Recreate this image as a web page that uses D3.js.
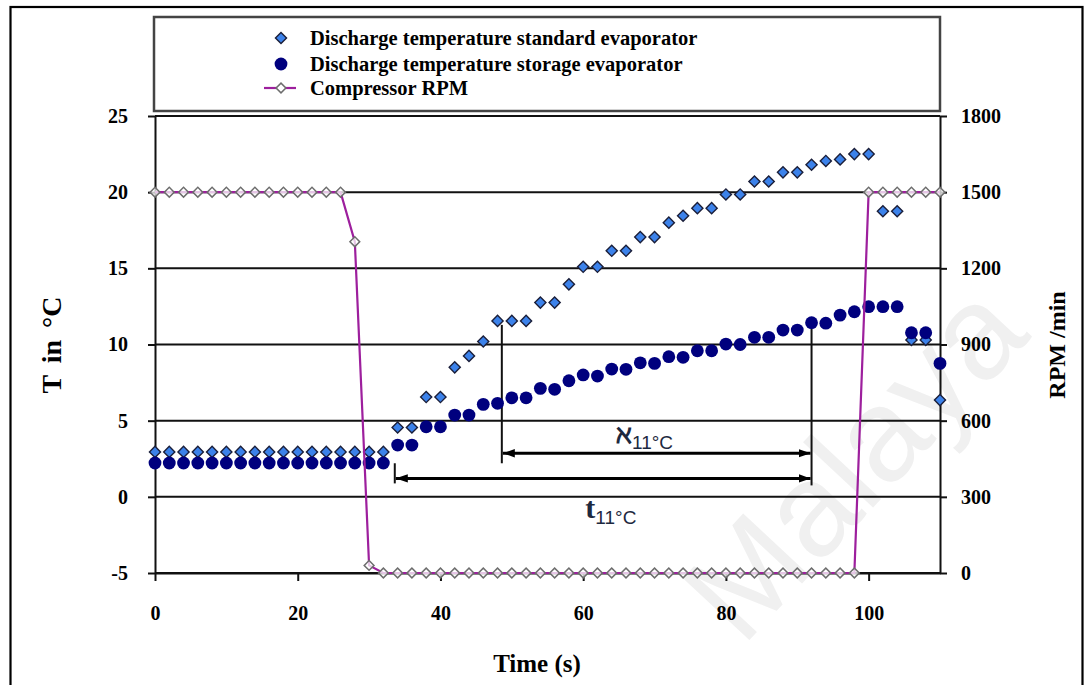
<!DOCTYPE html>
<html>
<head>
<meta charset="utf-8">
<script src="https://cdn.jsdelivr.net/npm/d3@7"></script>
<style>
  body { margin: 0; background: #fff; }
  svg { display: block; }
</style>
</head>
<body>
<svg id="chart" width="1084" height="685"></svg>
<script>
// Sample times (s)
const time = [0, 2, 4, 6, 8, 10, 12, 14, 16, 18, 20, 22, 24, 26, 28, 30, 32, 34, 36, 38,
  40, 42, 44, 46, 48, 50, 52, 54, 56, 58, 60, 62, 64, 66, 68, 70, 72, 74, 76, 78,
  80, 82, 84, 86, 88, 90, 92, 94, 96, 98, 100, 102, 104, 106, 108, 110];

// Discharge temperature, standard evaporator (°C)
const standardEvap = [2.95, 2.95, 2.95, 2.95, 2.95, 2.95, 2.95, 2.95, 2.95, 2.95, 2.95, 2.95, 2.95, 2.95, 2.95, 2.95, 2.95,
  4.55, 4.55, 6.55, 6.55, 8.5, 9.25, 10.2, 11.55, 11.55, 11.55,
  12.75, 12.75, 13.95, 15.1, 15.1, 16.15, 16.15, 17.05, 17.05, 18.0,
  18.45, 18.95, 18.95, 19.85, 19.85, 20.7, 20.7, 21.3, 21.3, 21.8,
  22.05, 22.15, 22.5, 22.5, 18.75, 18.75, 10.3, 10.3, 6.35];

// Discharge temperature, storage evaporator (°C)
const storageEvap = [2.22, 2.22, 2.22, 2.22, 2.22, 2.22, 2.22, 2.22, 2.22, 2.22, 2.22, 2.22, 2.22, 2.22, 2.22, 2.22, 2.22,
  3.4, 3.4, 4.6, 4.6, 5.37, 5.37, 6.07, 6.14, 6.5, 6.5,
  7.12, 7.06, 7.62, 8.0, 7.93, 8.39, 8.37, 8.8, 8.76, 9.2,
  9.16, 9.59, 9.59, 10.03, 10.0, 10.47, 10.47, 10.95, 10.95, 11.43,
  11.4, 11.93, 12.15, 12.48, 12.48, 12.48, 10.77, 10.77, 8.76];

// Compressor speed (RPM)
const compressorRpm = [1500, 1500, 1500, 1500, 1500, 1500, 1500, 1500, 1500, 1500, 1500, 1500, 1500, 1500,
  1305, 30,
  0, 0, 0, 0, 0, 0, 0, 0, 0, 0, 0, 0, 0, 0, 0, 0, 0, 0, 0, 0, 0, 0, 0, 0, 0, 0, 0, 0, 0, 0, 0, 0, 0, 0,
  1500, 1500, 1500, 1500, 1500, 1500];

// Axis ticks
const xTicks = [0, 20, 40, 60, 80, 100];
const tempTicks = [-5, 0, 5, 10, 15, 20, 25];
const rpmTicks = [0, 300, 600, 900, 1200, 1500, 1800];

// Legend entries
const legendLabels = ["Discharge temperature standard evaporator",
  "Discharge temperature storage evaporator",
  "Compressor RPM"];

// Time-span annotations (time in s, temperature in °C)
const spanStart = [48.6, 33.6];        // start of the two spans
const spanEnd = 92.0;                   // common end of both spans
const spanLevel = [2.86, 1.21];         // height of each double arrow
const spanNames = ["\u2135", "t"];      // main symbol of each label
const spanLabelAt = [[64.6, 3.55], [60.3, -1.4]];

const svg = d3.select("#chart");
const serif = "'Liberation Serif', 'Times New Roman', serif";
const sans = "'Liberation Sans', Arial, sans-serif";

const x = d3.scaleLinear().domain([0, 110]).range([155, 940]);
const y = d3.scaleLinear().domain([-5, 25]).range([573, 116]);
const yR = d3.scaleLinear().domain([0, 1800]).range([573, 116]);

// outer frame
svg.append("rect").attr("x", 10.5).attr("y", 7).attr("width", 1072).attr("height", 700)
  .attr("fill", "none").attr("stroke", "#000").attr("stroke-width", 2.2);

// faint watermark
svg.append("text")
  .attr("transform", "translate(742,648) rotate(-47)")
  .attr("font-family", sans).attr("font-size", 132)
  .attr("fill", "#f0f0f0")
  .text("Malaya");

// horizontal gridlines
svg.append("g").selectAll("line").data(tempTicks).join("line")
  .attr("x1", x(0)).attr("x2", x(110))
  .attr("y1", d => y(d)).attr("y2", d => y(d))
  .attr("stroke", "#111").attr("stroke-width", 2);

// axes
const plain = d => String(d);
const axisStyle = g => {
  g.selectAll("path, line").attr("stroke", "#111").attr("stroke-width", 2);
  g.selectAll("text").attr("font-family", serif).attr("font-weight", "bold")
    .attr("font-size", 20).attr("fill", "#000");
};
svg.append("g").attr("transform", `translate(${x(0)},0)`)
  .call(d3.axisLeft(y).tickValues(tempTicks).tickSize(7).tickSizeOuter(0).tickPadding(20).tickFormat(plain))
  .call(axisStyle);
svg.append("g").attr("transform", `translate(${x(110)},0)`)
  .call(d3.axisRight(yR).tickValues(rpmTicks).tickSize(7).tickSizeOuter(0).tickPadding(14).tickFormat(plain))
  .call(axisStyle);
svg.append("g").attr("transform", `translate(0,${y(-5)})`)
  .call(d3.axisBottom(x).tickValues(xTicks).tickSize(8).tickSizeOuter(0).tickPadding(25).tickFormat(plain))
  .call(axisStyle);

// axis titles
svg.append("text").attr("transform", "translate(61,345) rotate(-90)")
  .attr("text-anchor", "middle").attr("font-family", serif).attr("font-weight", "bold")
  .attr("font-size", 28).attr("word-spacing", 5).text("T in \u00B0C");
svg.append("text").attr("transform", "translate(1065,345) rotate(-90)")
  .attr("text-anchor", "middle").attr("font-family", serif).attr("font-weight", "bold")
  .attr("font-size", 24).text("RPM /min");
svg.append("text").attr("x", 537).attr("y", 672)
  .attr("text-anchor", "middle").attr("font-family", serif).attr("font-weight", "bold")
  .attr("font-size", 25).text("Time (s)");

// span annotations
const defs = svg.append("defs");
["arrowEnd", "arrowStart"].forEach((id, i) => {
  defs.append("marker").attr("id", id)
    .attr("viewBox", "0 0 10 10").attr("refX", i === 0 ? 10 : 0).attr("refY", 5)
    .attr("markerWidth", 4).attr("markerHeight", 4).attr("markerUnits", "strokeWidth")
    .attr("orient", "auto")
    .append("path")
    .attr("d", i === 0 ? "M0,1.5L10,5L0,8.5Z" : "M10,1.5L0,5L10,8.5Z")
    .attr("fill", "#000");
});
const ann = svg.append("g");
// vertical guides
ann.append("line").attr("x1", x(spanStart[0])).attr("x2", x(spanStart[0]))
  .attr("y1", y(standardEvap[time.indexOf(48)]) + 4).attr("y2", y(spanLevel[0]) + 10)
  .attr("stroke", "#111").attr("stroke-width", 2);
ann.append("line").attr("x1", x(spanEnd)).attr("x2", x(spanEnd))
  .attr("y1", y(storageEvap[time.indexOf(92)]) - 5).attr("y2", y(spanLevel[1]) + 7)
  .attr("stroke", "#111").attr("stroke-width", 2);
ann.append("line").attr("x1", x(spanStart[1])).attr("x2", x(spanStart[1]))
  .attr("y1", y(spanLevel[0]) + 10).attr("y2", y(spanLevel[1]) + 5)
  .attr("stroke", "#111").attr("stroke-width", 2);
// double arrows
spanStart.forEach((s, i) => {
  ann.append("line").attr("x1", x(s) + 1).attr("x2", x(spanEnd) - 1)
    .attr("y1", y(spanLevel[i])).attr("y2", y(spanLevel[i]))
    .attr("stroke", "#000").attr("stroke-width", 3)
    .attr("marker-start", "url(#arrowStart)").attr("marker-end", "url(#arrowEnd)");
});
// span labels
spanNames.forEach((n, i) => {
  const t = ann.append("text").attr("x", x(spanLabelAt[i][0])).attr("y", y(spanLabelAt[i][1]))
    .attr("fill", "#1d2940");
  t.append("tspan").attr("font-family", i === 0 ? "'DejaVu Serif', serif" : serif)
    .attr("font-weight", "bold").attr("font-size", i === 0 ? 26 : 30).text(n);
  t.append("tspan").attr("font-family", sans).attr("font-size", 19)
    .attr("dy", 6).text("11\u00B0C");
});

// symbols
const diamondPath = d3.symbol().type(d3.symbolSquare).size(62)();
const rpmDiamondPath = d3.symbol().type(d3.symbolSquare).size(48)();

// standard evaporator: blue diamonds
svg.append("g").selectAll("path").data(time).join("path")
  .attr("d", diamondPath)
  .attr("transform", (t, i) => `translate(${x(t)},${y(standardEvap[i])}) rotate(45)`)
  .attr("fill", "#3c82ea").attr("stroke", "#1b1f3a").attr("stroke-width", 1.4);

// storage evaporator: navy circles
svg.append("g").selectAll("circle").data(time).join("circle")
  .attr("cx", t => x(t)).attr("cy", (t, i) => y(storageEvap[i])).attr("r", 6.4)
  .attr("fill", "#00007e");

// compressor RPM: purple line with open diamonds
const rpmLine = d3.line().x(t => x(t)).y((t, i) => yR(compressorRpm[i]));
svg.append("path").datum(time).attr("d", rpmLine)
  .attr("fill", "none").attr("stroke", "#9d1f9d").attr("stroke-width", 2.2);
svg.append("g").selectAll("path").data(time).join("path")
  .attr("d", rpmDiamondPath)
  .attr("transform", (t, i) => `translate(${x(t)},${yR(compressorRpm[i])}) rotate(45)`)
  .attr("fill", "#fff").attr("fill-opacity", 0.75)
  .attr("stroke", "#6d6d6d").attr("stroke-width", 1.5);

// legend
const lg = svg.append("g");
lg.append("rect").attr("x", 154).attr("y", 17).attr("width", 786).attr("height", 94)
  .attr("fill", "#fff").attr("stroke", "#444").attr("stroke-width", 2.5);
const legendY = [38, 64, 88];
lg.append("path").attr("d", diamondPath)
  .attr("transform", `translate(281,${legendY[0]}) rotate(45)`)
  .attr("fill", "#3c82ea").attr("stroke", "#1b1f3a").attr("stroke-width", 1.4);
lg.append("circle").attr("cx", 281).attr("cy", legendY[1]).attr("r", 6.4).attr("fill", "#00007e");
lg.append("line").attr("x1", 264).attr("x2", 296).attr("y1", legendY[2]).attr("y2", legendY[2])
  .attr("stroke", "#9d1f9d").attr("stroke-width", 2.2);
lg.append("path").attr("d", rpmDiamondPath)
  .attr("transform", `translate(281,${legendY[2]}) rotate(45)`)
  .attr("fill", "#fff").attr("stroke", "#6d6d6d").attr("stroke-width", 1.5);
lg.selectAll("text").data(legendLabels).join("text")
  .attr("x", 310).attr("y", (d, i) => legendY[i] + 7)
  .attr("font-family", serif).attr("font-weight", "bold").attr("font-size", 20.5)
  .text(d => d);
</script>
</body>
</html>
